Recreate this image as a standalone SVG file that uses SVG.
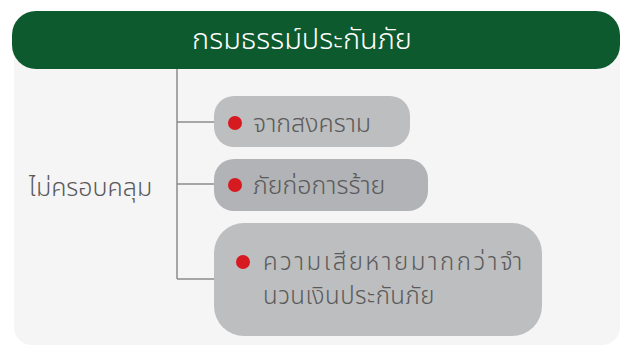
<svg xmlns="http://www.w3.org/2000/svg" width="622" height="349" viewBox="0 0 622 349">
<style>
.t{font-family:"Noto Sans Thai","Noto Sans","DejaVu Sans",sans-serif;fill:#5a5a5a;font-size:25px;font-weight:300}
.box{fill:#bdbec0}
.bul{fill:#d71920}
.ln{stroke:#8c8c8c;stroke-width:1.5;fill:none}
</style>
<rect x="14" y="40" width="606" height="305" rx="18" fill="#f5f5f5"/>
<g id="connectors">
<path class="ln" d="M177 68 V279 M177 122 H214 M177 184 H214 M177 279 H214"/>
</g>
<g id="header">
<rect x="12" y="11" width="608" height="58" rx="24" fill="#0e5a2f"/>
<text x="302" y="49" text-anchor="middle" class="t" style="fill:#fff;font-size:29px">กรมธรรม์ประกันภัย</text>
</g>
<g id="root">
<text x="29" y="196" class="t">ไม่ครอบคลุม</text>
</g>
<g id="n1">
<rect x="214" y="96" width="196" height="51" rx="20" class="box"/>
<circle cx="235" cy="123" r="7" class="bul"/>
<text x="253" y="132" class="t">จากสงคราม</text>
</g>
<g id="n2">
<rect x="214" y="159" width="214" height="52" rx="20" fill="#b1b3b6"/>
<circle cx="235" cy="185" r="7" class="bul"/>
<text x="253" y="194" class="t">ภัยก่อการร้าย</text>
</g>
<g id="n3">
<rect x="214" y="223" width="328" height="113" rx="30" class="box"/>
<circle cx="243" cy="262" r="7" class="bul"/>
<text class="t" style="font-size:24px"><tspan x="263" y="270" style="letter-spacing:2.5px">ความเสียหายมากกว่าจำ</tspan><tspan x="263" y="304" style="letter-spacing:0.5px">นวนเงินประกันภัย</tspan></text>
</g>
</svg>
